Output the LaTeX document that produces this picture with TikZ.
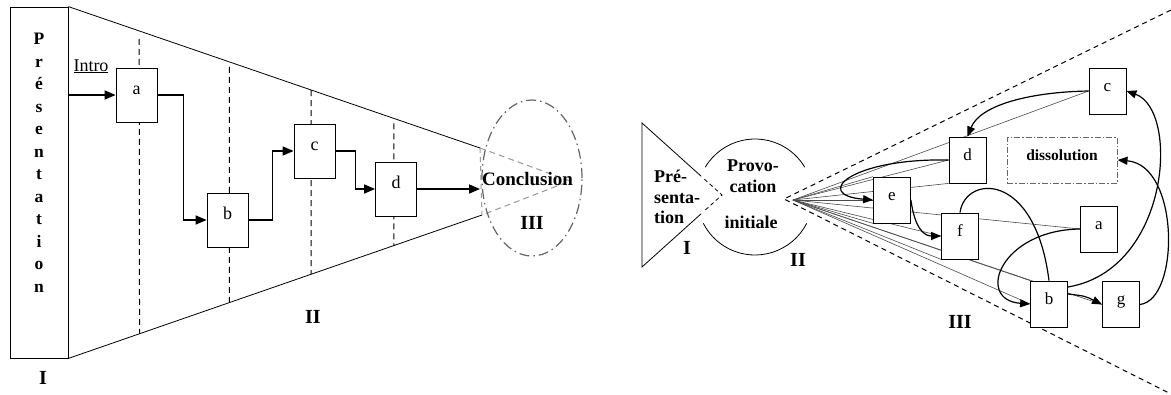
\documentclass[tikz,border=0pt]{standalone}
\usepackage{fontspec}
\setmainfont{Liberation Serif}
\usetikzlibrary{arrows.meta,shapes.geometric,calc,backgrounds}
\begin{document}
\begin{tikzpicture}[x=1pt,y=-1pt,
  boxL/.style={draw, line width=0.8pt, fill=white, minimum width=41pt, inner sep=0pt,
     text height=26pt, text depth=28pt, font=\fontsize{18}{20}\selectfont},
  boxR/.style={draw, line width=0.8pt, fill=white, minimum width=37pt, inner sep=0pt,
     text height=23pt, text depth=23pt, font=\fontsize{17}{19}\selectfont},
  arrL/.style={line width=1.6pt, -{Triangle[length=11pt,width=9pt]}},
  arrR/.style={line width=1.2pt, -{Triangle[length=10pt,width=8pt]}},
  plainR/.style={line width=1.2pt},
  vdash/.style={line width=1pt, dash pattern=on 6pt off 4pt},
  fan/.style={line width=0.6pt, black!70},
  roman/.style={font=\bfseries\fontsize{20}{22}\selectfont},
  btext/.style={font=\bfseries\fontsize{18}{20.5}\selectfont}
]
\useasboundingbox (0,0) rectangle (1171,394);

% ---------------- left diagram ----------------
\node[draw, line width=0.8pt, minimum width=58pt, minimum height=351pt, inner sep=0pt] (pres) at (39,182.5) {};
\node[font=\bfseries\fontsize{17.5}{22.5}\selectfont, align=center, anchor=north, inner sep=0pt] (presT) at (39,33)
  {P\\r\\é\\s\\e\\n\\t\\a\\t\\i\\o\\n};
\node[roman] (rI) at (43,378) {I};

\coordinate (tr1) at (480,148);
\coordinate (tr2) at (482,215);
\coordinate (capex) at (570,181);
\draw[line width=0.8pt] (pres.north east) -- (tr1);
\draw[line width=0.8pt] (pres.south east) -- (tr2);
\draw[black!40, line width=1pt, dash pattern=on 6pt off 4pt] (tr1) -- (capex) -- (tr2);
\draw[black!40, line width=1pt, dash pattern=on 5pt off 4pt] (tr1) -- (tr2);

\node[ellipse, draw=black!60, line width=1.2pt, dash pattern=on 10pt off 4pt on 1.5pt off 4pt,
      minimum width=100pt, minimum height=156pt, inner sep=0pt] (concl) at (532,178) {};
\node[font=\bfseries\fontsize{19}{21}\selectfont] (conclT) at (527.5,179) {Conclusion};
\node[roman] (rIII) at (532,223) {III};
\node[roman] (rII) at (313,317) {II};

\node[boxL] (a) at (136.5,95) {a};
\node[boxL] (b) at (227.5,220) {b};
\node[boxL] (c) at (314.5,151) {c};
\node[boxL] (d) at (396,189) {d};

% dashed separators (behind boxes)
\begin{scope}[on background layer]
\fill[white] (0,0) rectangle (1171,394);
\draw[vdash] ($(pres.north east)!0.172!(tr1)+(0,8)$) -- ($(pres.south east)!0.172!(tr2)$);
\draw[vdash] ($(pres.north east)!0.391!(tr1)+(0,5)$) -- ($(pres.south east)!0.389!(tr2)$);
\draw[vdash] ($(pres.north east)!0.59!(tr1)$) -- ($(pres.south east)!0.587!(tr2)$);
\draw[vdash] ($(pres.north east)!0.791!(tr1)+(0,5)$) -- ($(pres.south east)!0.787!(tr2)$);
\end{scope}

\node[font=\fontsize{18}{20}\selectfont, anchor=base] (intro) at (91,71) {\underline{Intro}};

\coordinate (dend) at (tr1 |- d.east);
\draw[arrL] (pres.east |- a.west) -- (a.west);
\draw[arrL] (a.east) -- ++(26,0) |- (b.west);
\draw[arrL] (b.east) -- ++(24,0) |- (c.west);
\draw[arrL] (c.east) -- ++(20,0) |- (d.west);
\draw[arrL] (d.east) -- (dend);

% ---------------- right diagram ----------------
\coordinate (T1) at (642,123);
\coordinate (T2) at (642,267);
\coordinate (Tap) at (722,195);
\draw[line width=0.8pt] ($(T1)!0.74!(Tap)$) -- (T1) -- (T2) -- ($(T2)!0.74!(Tap)$);
\draw[line width=0.8pt, dash pattern=on 4pt off 3pt] ($(T1)!0.78!(Tap)$) -- (Tap) -- ($(T2)!0.78!(Tap)$);
\node[btext, align=left, anchor=west, inner sep=0pt] (preT) at (654,197) {Pré-\\senta-\\tion};
\node[roman] (rI2) at (687,248) {I};

% circle arcs (centre 755,197, r 58)
\draw[line width=0.8pt] (755,197) ++(211:58) arc[start angle=211, end angle=329, radius=58];
\draw[line width=0.8pt] (755,197) ++(27:58) arc[start angle=27, end angle=153, radius=58];
\node[btext, align=center] (provT) at (753,176) {Provo-\\cation};
\node[btext] (initT) at (751,222) {initiale};
\node[roman] (rII2) at (798,260) {II};

% dashed cone
\coordinate (cap) at (784,199);
\draw[line width=1pt, dash pattern=on 5pt off 4pt] (1171,10) -- (cap) -- (1171,394);

% boxes
\node[boxR] (rc) at (1107.5,91) {c};
\node[boxR] (rd) at (967.5,160) {d};
\node[boxR] (re) at (892,200) {e};
\node[boxR] (rf) at (960,236) {f};
\node[boxR] (ra) at (1099,229) {a};
\node[boxR] (rb) at (1049,304) {b};
\node[boxR] (rg) at (1121,304.5) {g};
\node[draw=black!60, line width=1pt, dash pattern=on 6pt off 2pt on 1.5pt off 2pt,
      minimum width=110pt, inner sep=0pt, text height=23pt, text depth=23pt,
      font=\bfseries\fontsize{15.5}{17}\selectfont] (diss) at (1062,160) {dissolution};
\node[roman] (rIII2) at (960,322) {III};

% fan lines (behind boxes)
\coordinate (fo) at (793,200);
\begin{scope}[on background layer]
\foreach \t in {rc.west, rd.west, rd.south west, re.north west, re.west, re.south west,
                rf.west, rf.south west, ra.west, rb.north west, rb.west, rg.west}
  \draw[fan] (fo) -- (\t);
\end{scope}

% arrows
\draw[arrR] (rc.west) .. controls (1030,92) and (980,105) .. (rd.north);
\draw[arrR] (rd.west) .. controls (850,158) and (812,195) .. (re.west);
\draw[arrR] (re.east) .. controls (915,230) and (925,236) .. (rf.west);
\draw[plainR] (rf.north) .. controls (965,175) and (1035,170) .. (rb.north);
\draw[arrR] (ra.west) .. controls (1000,230) and (975,300) .. (rb.west);
\draw[arrR] ($(rb.east)+(0,-17)$) .. controls (1170,270) and (1180,110) .. (rc.east);
\draw[arrR] ($(rb.east)+(0,-10)$) .. controls (1085,296) .. (rg.west);
\draw[arrR] (rg.east) .. controls (1180,300) and (1180,165) .. (diss.east);
\end{tikzpicture}
\end{document}
